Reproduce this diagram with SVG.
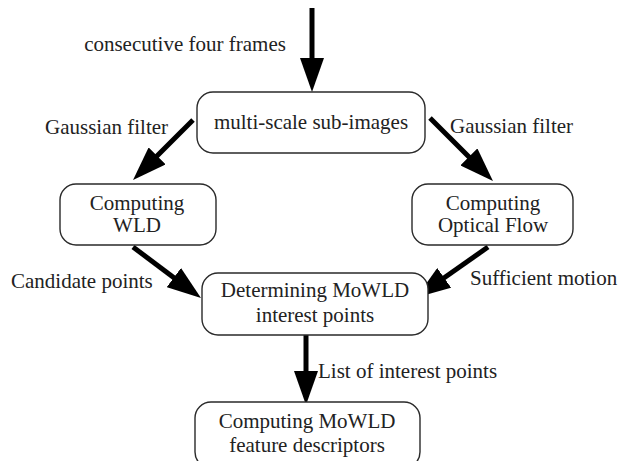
<svg xmlns="http://www.w3.org/2000/svg" width="618" height="461" viewBox="0 0 618 461">
  <style>
    .box { fill: #ffffff; stroke: #2a2a2a; stroke-width: 1.4; }
    .lbl { font-family: "Liberation Serif", "Times New Roman", serif; font-size: 21px; fill: #222222; }
    .mid { text-anchor: middle; }
    .edge { stroke: #000000; stroke-width: 5; fill: none; marker-end: url(#head); }
  </style>
  <defs>
    <marker id="head" markerUnits="userSpaceOnUse" markerWidth="36" markerHeight="24"
            refX="26" refY="12" orient="auto" viewBox="0 0 36 24">
      <path d="M0,0 L34,12 L0,24 z" fill="#000000"/>
    </marker>
  </defs>

  <rect width="618" height="461" fill="#ffffff"/>

  <!-- connectors -->
  <g id="connectors">
    <line class="edge" x1="312" y1="8" x2="312" y2="84"/>
    <line class="edge" x1="193" y1="120" x2="138.7" y2="174.3"/>
    <line class="edge" x1="430" y1="118" x2="487.3" y2="175.3"/>
    <line class="edge" x1="133" y1="247" x2="194.6" y2="293.2"/>
    <line class="edge" x1="488" y1="247" x2="422.9" y2="292.8"/>
    <line class="edge" x1="306" y1="335" x2="306" y2="397"/>
  </g>

  <!-- edge labels -->
  <g id="edge-labels">
    <text class="lbl mid" x="185" y="51">consecutive four frames</text>
    <text class="lbl" x="45" y="134">Gaussian filter</text>
    <text class="lbl" x="450" y="133">Gaussian filter</text>
    <text class="lbl" x="11" y="288">Candidate points</text>
    <text class="lbl" x="470" y="285">Sufficient motion</text>
    <text class="lbl" x="318" y="378">List of interest points</text>
  </g>

  <g id="node-subimages">
    <rect class="box" x="197" y="92" width="228" height="61" rx="16"/>
    <text class="lbl mid" x="311" y="129">multi-scale sub-images</text>
  </g>

  <g id="node-wld">
    <rect class="box" x="60" y="184" width="156" height="61" rx="16"/>
    <text class="lbl mid" x="137" y="210">Computing</text>
    <text class="lbl mid" x="137" y="232">WLD</text>
  </g>

  <g id="node-flow">
    <rect class="box" x="412" y="184" width="161" height="61" rx="16"/>
    <text class="lbl mid" x="493" y="210">Computing</text>
    <text class="lbl mid" x="493" y="232">Optical Flow</text>
  </g>

  <g id="node-interest">
    <rect class="box" x="202" y="273" width="226" height="62" rx="16"/>
    <text class="lbl mid" x="315" y="297">Determining MoWLD</text>
    <text class="lbl mid" x="315" y="322">interest points</text>
  </g>

  <g id="node-descriptors">
    <rect class="box" x="195" y="402" width="225" height="66" rx="16"/>
    <text class="lbl mid" x="307" y="428">Computing MoWLD</text>
    <text class="lbl mid" x="307" y="452">feature descriptors</text>
  </g>
</svg>
